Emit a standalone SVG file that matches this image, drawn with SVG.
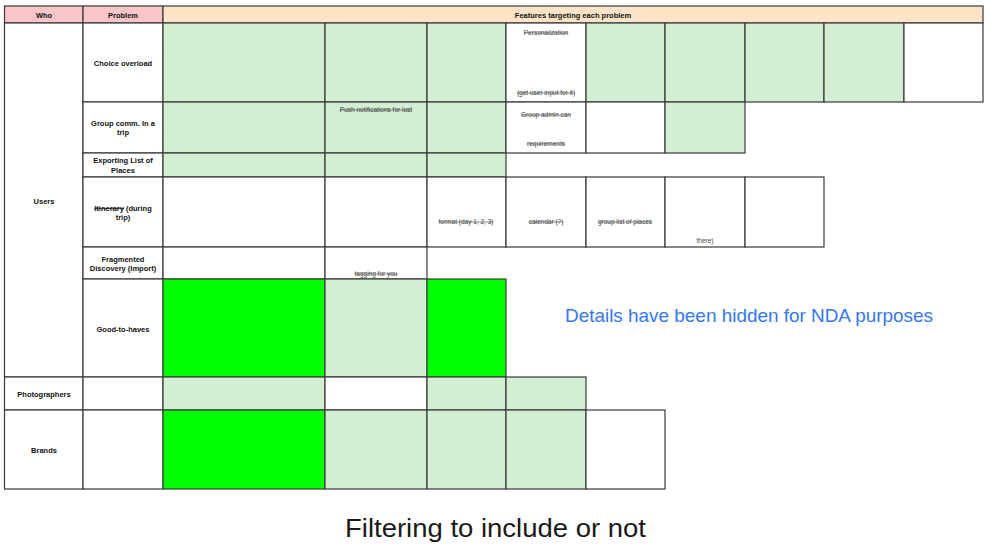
<svg xmlns="http://www.w3.org/2000/svg" width="990" height="548" viewBox="0 0 990 548">
<style>
rect{stroke:#3a3a3a;stroke-width:1.2}
.w{fill:#ffffff}
.g{fill:#d3eed3}
.b{fill:#00ff00}
.pk{fill:#f8c6c8}
.pe{fill:#fde3c8}
text{font-family:"Liberation Sans",Arial,sans-serif}
.h{font-size:7.5px;font-weight:bold;fill:#111;text-anchor:middle}
.f{font-size:6.5px;fill:#444;text-anchor:middle}
.s{text-decoration:line-through}
</style>
<rect width="990" height="548" fill="#ffffff" style="stroke:none"/>
<g id="header">
<rect class="pk" x="4.5" y="6" width="78.5" height="17"/>
<rect class="pk" x="83" y="6" width="80" height="17"/>
<rect class="pe" x="163" y="6" width="820" height="17"/>
<text class="h" x="44" y="17.5">Who</text>
<text class="h" x="123" y="17.5">Problem</text>
<text class="h" x="573" y="17.5">Features targeting each problem</text>
</g>
<g id="who">
<rect class="w" x="4.5" y="23" width="78.5" height="354"/>
<text class="h" x="44" y="203.5">Users</text>
<rect class="w" x="4.5" y="377" width="78.5" height="33"/>
<text class="h" x="44" y="396.5">Photographers</text>
<rect class="w" x="4.5" y="410" width="78.5" height="79"/>
<text class="h" x="44" y="453">Brands</text>
</g>
<g id="row-choice">
<rect class="w" x="83" y="23" width="80" height="79"/>
<text class="h" x="123" y="66">Choice overload</text>
<rect class="g" x="163" y="23" width="162" height="79"/>
<rect class="g" x="325" y="23" width="102" height="79"/>
<rect class="g" x="427" y="23" width="79" height="79"/>
<rect class="w" x="506" y="23" width="80" height="79"/>
<rect class="g" x="586" y="23" width="79" height="79"/>
<rect class="g" x="665" y="23" width="80" height="79"/>
<rect class="g" x="745" y="23" width="79" height="79"/>
<rect class="g" x="824" y="23" width="80" height="79"/>
<rect class="w" x="904" y="23" width="79" height="79"/>
<text class="f s" x="546" y="35">Personalization</text>
<text class="f s" x="546" y="95">(get user input for it)</text>
</g>
<g id="row-group">
<rect class="w" x="83" y="102" width="80" height="51"/>
<text class="h" x="123" y="125.5">Group comm. In a</text>
<text class="h" x="123" y="135">trip</text>
<rect class="g" x="163" y="102" width="162" height="51"/>
<rect class="g" x="325" y="102" width="102" height="51"/>
<rect class="g" x="427" y="102" width="79" height="51"/>
<rect class="w" x="506" y="102" width="80" height="51"/>
<rect class="w" x="586" y="102" width="79" height="51"/>
<rect class="g" x="665" y="102" width="80" height="51"/>
<text class="f s" x="376" y="112">Push notifications for lost</text>
<text class="f s" x="546" y="117">Group admin can</text>
<text class="f s" x="546" y="146">requirements</text>
</g>
<g id="row-export">
<rect class="w" x="83" y="153" width="80" height="24"/>
<text class="h" x="123" y="163">Exporting List of</text>
<text class="h" x="123" y="172.5">Places</text>
<rect class="g" x="163" y="153" width="162" height="24"/>
<rect class="g" x="325" y="153" width="102" height="24"/>
<rect class="g" x="427" y="153" width="79" height="24"/>
</g>
<g id="row-itinerary">
<rect class="w" x="83" y="177" width="80" height="70"/>
<text class="h" x="123" y="211"><tspan class="s">Itinerary</tspan> (during</text>
<text class="h" x="123" y="220">trip)</text>
<rect class="w" x="163" y="177" width="162" height="70"/>
<rect class="w" x="325" y="177" width="102" height="70"/>
<rect class="w" x="427" y="177" width="79" height="70"/>
<rect class="w" x="506" y="177" width="80" height="70"/>
<rect class="w" x="586" y="177" width="79" height="70"/>
<rect class="w" x="665" y="177" width="80" height="70"/>
<rect class="w" x="745" y="177" width="79" height="70"/>
<text class="f s" x="466" y="224">format (day 1, 2, 3)</text>
<text class="f s" x="546" y="224">calendar (?)</text>
<text class="f s" x="625" y="224">group list of places</text>
<text class="f" x="705" y="243">there)</text>
</g>
<g id="row-fragmented">
<rect class="w" x="83" y="247" width="80" height="32"/>
<text class="h" x="123" y="261.5">Fragmented</text>
<text class="h" x="123" y="271">Discovery (Import)</text>
<rect class="w" x="163" y="247" width="162" height="32"/>
<rect class="w" x="325" y="247" width="102" height="32"/>
<text class="f s" x="376" y="276">tagging for you</text>
</g>
<g id="row-goodtohaves">
<rect class="w" x="83" y="279" width="80" height="98"/>
<text class="h" x="123" y="331.5">Good-to-haves</text>
<rect class="b" x="163" y="279" width="162" height="98"/>
<rect class="g" x="325" y="279" width="102" height="98"/>
<rect class="b" x="427" y="279" width="79" height="98"/>
</g>
<g id="row-photographers">
<rect class="w" x="83" y="377" width="80" height="33"/>
<rect class="g" x="163" y="377" width="162" height="33"/>
<rect class="w" x="325" y="377" width="102" height="33"/>
<rect class="g" x="427" y="377" width="79" height="33"/>
<rect class="g" x="506" y="377" width="80" height="33"/>
</g>
<g id="row-brands">
<rect class="w" x="83" y="410" width="80" height="79"/>
<rect class="b" x="163" y="410" width="162" height="79"/>
<rect class="g" x="325" y="410" width="102" height="79"/>
<rect class="g" x="427" y="410" width="79" height="79"/>
<rect class="g" x="506" y="410" width="80" height="79"/>
<rect class="w" x="586" y="410" width="79" height="79"/>
</g>
<g id="note">
<text x="565" y="322" font-size="18.5" fill="#3478f2" textLength="368" lengthAdjust="spacingAndGlyphs">Details have been hidden for NDA purposes</text>
</g>
<g id="caption">
<text x="345" y="537" font-family="Roboto, 'Liberation Sans', sans-serif" font-size="26" fill="#1a1a1a" textLength="301" lengthAdjust="spacingAndGlyphs">Filtering to include or not</text>
</g>
</svg>
